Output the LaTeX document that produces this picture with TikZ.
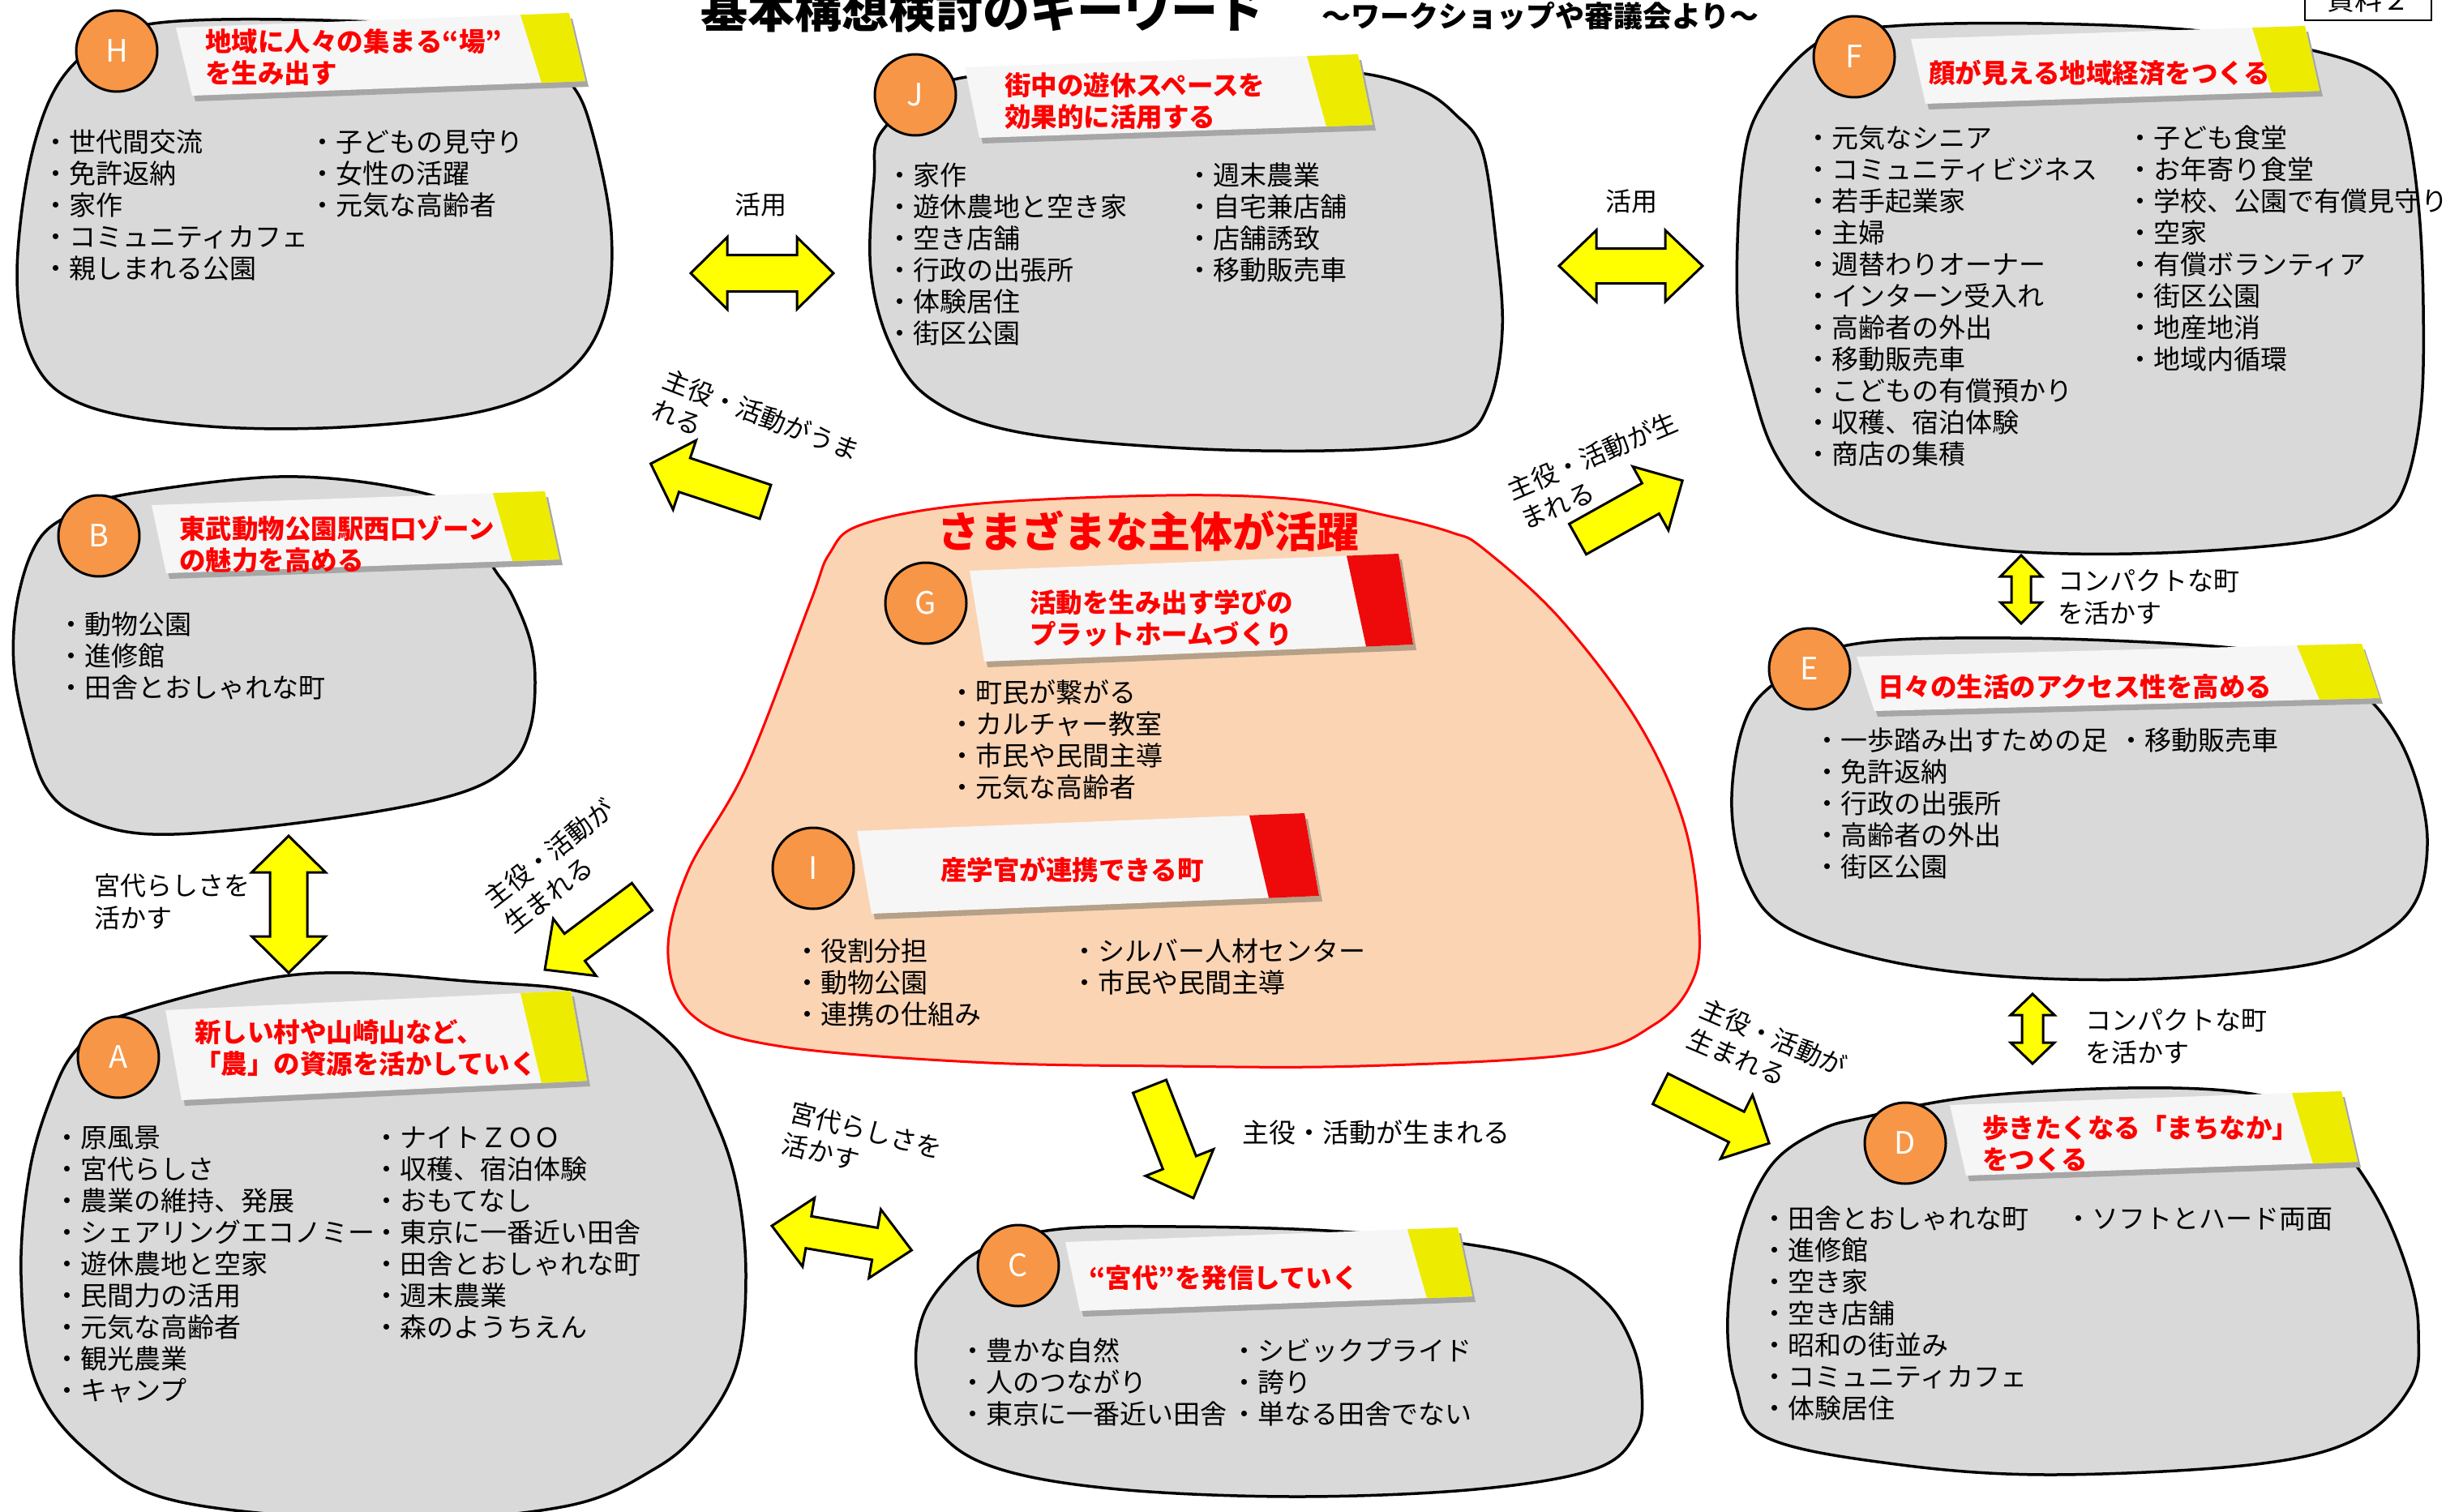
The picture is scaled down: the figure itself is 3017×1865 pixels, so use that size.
\documentclass[tikz,border=0pt]{standalone}
\usepackage{fontspec}
\setmainfont{Noto Sans CJK JP}
\definecolor{blobgray}{HTML}{D9D9D9}
\definecolor{badgeor}{HTML}{F79646}
\definecolor{salmon}{HTML}{FBD4B4}
\definecolor{tagyel}{HTML}{EDEB00}
\definecolor{tagred}{HTML}{EE0A0A}
\definecolor{paper}{HTML}{F6F6F6}
\definecolor{shadowg}{HTML}{A6A6A6}
\definecolor{shadowb}{HTML}{B5A088}
\definecolor{txtred}{HTML}{FF0000}
\definecolor{arrowyel}{HTML}{FFFF00}
\tikzset{
  blob/.style={fill=blobgray, draw=black, line width=3.5},
  badge/.style={circle, draw=black, line width=3, fill=badgeor, minimum size=100, inner sep=0, text=white, font=\fontsize{38}{40}\selectfont},
  tagtxt/.style={text=txtred, font=\fontsize{32.5}{39}\bfseries, anchor=west, align=left, inner sep=0},
  blt/.style={anchor=base west, inner sep=0, font=\fontsize{33}{39}\selectfont},
  lbl/.style={inner sep=0, font=\fontsize{32}{40}\selectfont, align=left},
  yarrow/.style={fill=arrowyel, draw=black, line width=3, line join=miter},
}
% name, dot x, first row centre y, items
\newcommand{\blist}[4]{%
  \foreach \itm [count=\i] in {#4} {\node[blt] (#1-\i) at ({#2-15},{#3+12.5+(\i-1)*39}) {・\itm};}}
% x1, y1, x2 (end start), x3, rise, height, slant, endcolour, shadowcolour
\newcommand{\papertag}[9]{%
  \fill[#9, shift={(4,7)}] (#1,#2) -- (#4,{#2-#5}) -- ({#4+#7},{#2-#5+#6}) -- ({#1+#7},{#2+#6}) -- cycle;
  \fill[paper] (#1,#2) -- (#4,{#2-#5}) -- ({#4+#7},{#2-#5+#6}) -- ({#1+#7},{#2+#6}) -- cycle;
  \fill[#8] (#3,{#2-#5*(#3-#1)/(#4-#1)}) -- (#4,{#2-#5}) -- ({#4+#7},{#2-#5+#6}) -- ({#3+#7+6},{#2+#6-#5*(#3-#1)/(#4-#1)}) -- cycle;}
% tail x, tail y, angle, length, half shaft, half head, head length
\newcommand{\sarrow}[7]{%
  \draw[yarrow, shift={(#1,#2)}, rotate=#3] (0,-#5) -- ({#4-#7},-#5) -- ({#4-#7},-#6) -- (#4,0) -- ({#4-#7},#6) -- ({#4-#7},#5) -- (0,#5) -- cycle;}
\newcommand{\darrow}[7]{%
  \draw[yarrow, shift={(#1,#2)}, rotate=#3] (0,0) -- (#7,-#6) -- (#7,-#5) -- ({#4-#7},-#5) -- ({#4-#7},-#6) -- (#4,0) -- ({#4-#7},#6) -- ({#4-#7},#5) -- (#7,#5) -- (#7,#6) -- cycle;}
\begin{document}
\begin{tikzpicture}[x=1pt,y=-1pt]
\useasboundingbox (0,0) rectangle (3017,1865);
\fill[white] (0,0) rectangle (3017,1865);

% header
\node[font=\fontsize{58}{60}\bfseries, anchor=base, inner sep=0] (title) at (1212,35) {基本構想検討のキーワード};
\node[font=\fontsize{36}{38}\bfseries, anchor=base west, inner sep=0] (subtitle) at (1630,34) {～ワークショップや審議会より～};
\draw[line width=2] (2843,-10) rectangle (2999,25);
\node[anchor=base, inner sep=0, font=\fontsize{34}{36}\selectfont] (shiryo) at (2921,13) {資料２};

% central region
\draw[fill=salmon, draw=red, line width=3] plot[smooth cycle, tension=0.6] coordinates {(999,744) (1023,683) (1063,647) (1199,622) (1438,611) (1600,616) (1715,637) (1791,657) (1830,677) (1925,764) (2021,892) (2078,1019) (2096,1147) (2086,1213) (2040,1264) (1944,1300) (1677,1315) (1438,1315) (1199,1310) (959,1290) (856,1254) (824,1178) (848,1076) (920,948)};
\node[text=txtred, font=\fontsize{52}{54}\bfseries, inner sep=0] (ctitle) at (1416,655) {さまざまな主体が活躍};

% G
\papertag{1196}{704}{1661}{1725}{21}{112}{18}{tagred}{shadowb}
\node[badge] (cG) at (1142,744) {G};
\node[tagtxt] (tG) at (1270,763) {活動を生み出す学びの\\プラットホームづくり};
\blist{G}{1185}{854}{町民が繋がる,カルチャー教室,市民や民間主導,元気な高齢者}

% I
\papertag{1057}{1025}{1541}{1609}{22}{102}{18}{tagred}{shadowb}
\node[badge] (cI) at (1003,1071) {I};
\node[tagtxt] (tI) at (1160,1073) {産学官が連携できる町};
\blist{Ia}{994}{1173}{役割分担,動物公園,連携の仕組み}
\blist{Ib}{1336}{1173}{シルバー人材センター,市民や民間主導}

% H
\draw[blob] plot[smooth cycle, tension=0.6] coordinates {(91,79) (189,29) (463,27) (640,45) (702,100) (730,161) (754,286) (744,393) (694,464) (596,507) (421,527) (246,525) (105,500) (42,446) (21,339) (42,179)};
\papertag{217}{34}{642}{702}{18}{84}{20}{tagyel}{shadowg}
\node[badge] (cH) at (144,63) {H};
\node[tagtxt] (tH) at (253,71) {地域に人々の集まる“場”\\を生み出す};
\blist{Ha}{67}{175}{世代間交流,免許返納,家作,コミュニティカフェ,親しまれる公園}
\blist{Hb}{396}{175}{子どもの見守り,女性の活躍,元気な高齢者}

% J
\draw[blob] plot[smooth cycle, tension=0.6] coordinates {(1090,159) (1181,97) (1400,92) (1600,90) (1683,91) (1753,111) (1795,141) (1828,185) (1845,296) (1853,407) (1836,499) (1795,540) (1671,555) (1463,553) (1256,533) (1148,492) (1098,425) (1074,333) (1078,222)};
\papertag{1190}{83}{1612}{1675}{16}{87}{18}{tagyel}{shadowg}
\node[badge] (cJ) at (1129,117) {J};
\node[tagtxt] (tJ) at (1239,125) {街中の遊休スペースを\\効果的に活用する};
\blist{Ja}{1108}{216}{家作,遊休農地と空き家,空き店舗,行政の出張所,体験居住,街区公園}
\blist{Jb}{1478}{216}{週末農業,自宅兼店舗,店舗誘致,移動販売車}

% F
\draw[blob] plot[smooth cycle, tension=0.6] coordinates {(2175,126) (2246,50) (2337,32) (2519,29) (2713,38) (2856,63) (2934,93) (2966,147) (2983,253) (2989,379) (2986,505) (2966,600) (2932,640) (2852,667) (2667,682) (2482,680) (2327,658) (2240,620) (2190,560) (2162,480) (2143,379) (2149,210)};
\papertag{2357}{48}{2778}{2843}{16}{80}{18}{tagyel}{shadowg}
\node[badge] (cF) at (2287,70) {F};
\node[tagtxt] (tF) at (2379,90) {顔が見える地域経済をつくる};
\blist{Fa}{2241}{170}{元気なシニア,コミュニティビジネス,若手起業家,主婦,週替わりオーナー,インターン受入れ,高齢者の外出,移動販売車,こどもの有償預かり,収穫、宿泊体験,商店の集積}
\blist{Fb}{2638}{170}{子ども食堂,お年寄り食堂,学校、公園で有償見守り,空家,有償ボランティア,街区公園,地産地消,地域内循環}

% B
\draw[blob] plot[smooth cycle, tension=0.6] coordinates {(52,660) (110,625) (166,608) (344,588) (488,601) (570,630) (608,699) (631,733) (654,790) (660,842) (654,898) (631,942) (574,976) (459,1002) (287,1024) (172,1028) (98,1007) (57,972) (34,907) (17,820) (23,733)};
\papertag{187}{623}{608}{672}{17}{84}{18}{tagyel}{shadowg}
\node[badge] (cB) at (122,661) {B};
\node[tagtxt] (tB) at (221,671) {東武動物公園駅西口ゾーン\\の魅力を高める};
\blist{B}{86}{770}{動物公園,進修館,田舎とおしゃれな町}

% A
\draw[blob] plot[smooth cycle, tension=0.6] coordinates {(66,1346) (95,1294) (147,1254) (367,1202) (587,1211) (733,1228) (829,1289) (880,1377) (909,1464) (920,1573) (909,1682) (865,1761) (807,1812) (697,1858) (480,1875) (220,1852) (110,1792) (44,1704) (26,1573) (37,1442)};
\papertag{204}{1246}{642}{704}{24}{111}{20}{tagyel}{shadowg}
\node[badge] (cA) at (146,1304) {A};
\node[tagtxt] (tA) at (240,1293) {新しい村や山崎山など、\\「農」の資源を活かしていく};
\blist{Aa}{81}{1403}{原風景,宮代らしさ,農業の維持、発展,シェアリングエコノミー,遊休農地と空家,民間力の活用,元気な高齢者,観光農業,キャンプ}
\blist{Ab}{475}{1403}{ナイトＺＯＯ,収穫、宿泊体験,おもてなし,東京に一番近い田舎,田舎とおしゃれな町,週末農業,森のようちえん}

% C
\draw[blob] plot[smooth cycle, tension=0.6] coordinates {(1175,1570) (1219,1538) (1307,1516) (1453,1513) (1637,1518) (1805,1534) (1915,1559) (1981,1606) (2014,1660) (2025,1714) (2018,1768) (1967,1812) (1820,1837) (1600,1846) (1380,1837) (1233,1812) (1160,1768) (1131,1696) (1138,1624)};
\papertag{1314}{1532}{1736}{1798}{18}{85}{18}{tagyel}{shadowg}
\node[badge] (cC) at (1256,1561) {C};
\node[tagtxt] (tC) at (1343,1576) {“宮代”を発信していく};
\blist{Ca}{1198}{1666}{豊かな自然,人のつながり,東京に一番近い田舎}
\blist{Cb}{1533}{1666}{シビックプライド,誇り,単なる田舎でない}

% E
\draw[blob] plot[smooth cycle, tension=0.6] coordinates {(2186,845) (2278,796) (2482,787) (2741,798) (2852,819) (2913,854) (2957,908) (2984,975) (2994,1042) (2981,1109) (2938,1153) (2852,1189) (2667,1207) (2482,1205) (2327,1185) (2204,1144) (2155,1086) (2136,997) (2149,899)};
\papertag{2290}{810}{2833}{2913}{16}{67}{22}{tagyel}{shadowg}
\node[badge] (cE) at (2232,825) {E};
\node[tagtxt] (tE) at (2316,847) {日々の生活のアクセス性を高める};
\blist{Ea}{2252}{913}{一歩踏み出すための足,免許返納,行政の出張所,高齢者の外出,街区公園}
\blist{Eb}{2627}{913}{移動販売車}

% D
\draw[blob] plot[smooth cycle, tension=0.6] coordinates {(2243,1395) (2300,1378) (2433,1353) (2624,1342) (2770,1348) (2850,1375) (2897,1425) (2942,1497) (2974,1582) (2983,1645) (2974,1709) (2910,1773) (2783,1806) (2529,1819) (2338,1806) (2179,1773) (2141,1709) (2131,1624) (2147,1518) (2185,1437)};
\papertag{2405}{1363}{2827}{2888}{17}{87}{20}{tagyel}{shadowg}
\node[badge] (cD) at (2350,1410) {D};
\node[tagtxt] (tD) at (2445,1411) {歩きたくなる「まちなか」\\をつくる};
\blist{Da}{2187}{1503}{田舎とおしゃれな町,進修館,空き家,空き店舗,昭和の街並み,コミュニティカフェ,体験居住}
\blist{Db}{2562}{1503}{ソフトとハード両面}

% arrows
\darrow{852}{337}{0}{176}{22.5}{44.5}{45}
\darrow{1923}{328}{0}{177}{21.5}{44}{46}
\sarrow{944}{619}{161.6}{149}{22}{45}{44}
\sarrow{1946}{665}{29.2}{148}{21.5}{45}{45}
\sarrow{792}{1106}{-143.1}{150}{21}{44}{46}
\sarrow{2048}{1343}{-26.6}{150}{21}{44}{45}
\sarrow{1418}{1340}{-68.6}{148}{22}{45}{47}
\darrow{952}{1512}{-9.9}{175}{20}{43}{46}
\darrow{356}{1031}{-90}{169}{23}{45.5}{45}
\darrow{2493}{685}{-90}{84}{12}{25.5}{26}
\darrow{2507}{1226}{-90}{86}{13}{27}{26}

% labels
\node[lbl] (lHJ) at (938,252) {活用};
\node[lbl] (lJF) at (2012,248) {活用};
\node[lbl, anchor=north west, rotate=-21] (lH) at (825,452) {主役・活動がうま\\れる};
\node[lbl, anchor=north west, rotate=23] (lF) at (1855,592) {主役・活動が生\\まれる};
\node[lbl, anchor=north west, rotate=38] (lA) at (592,1100) {主役・活動が\\生まれる};
\node[lbl, anchor=north west, rotate=-23] (lD) at (2105,1228) {主役・活動が\\生まれる};
\node[lbl, anchor=west, font=\fontsize{33}{40}\selectfont] (lC) at (1532,1397) {主役・活動が生まれる};
\node[lbl, anchor=north west, rotate=-14] (lAC) at (979,1356) {宮代らしさを\\活かす};
\node[lbl, anchor=west] (lBA) at (116,1112) {宮代らしさを\\活かす};
\node[lbl, anchor=west] (lFE) at (2538,737) {コンパクトな町\\を活かす};
\node[lbl, anchor=west] (lED) at (2572,1279) {コンパクトな町\\を活かす};
\end{tikzpicture}
\end{document}
